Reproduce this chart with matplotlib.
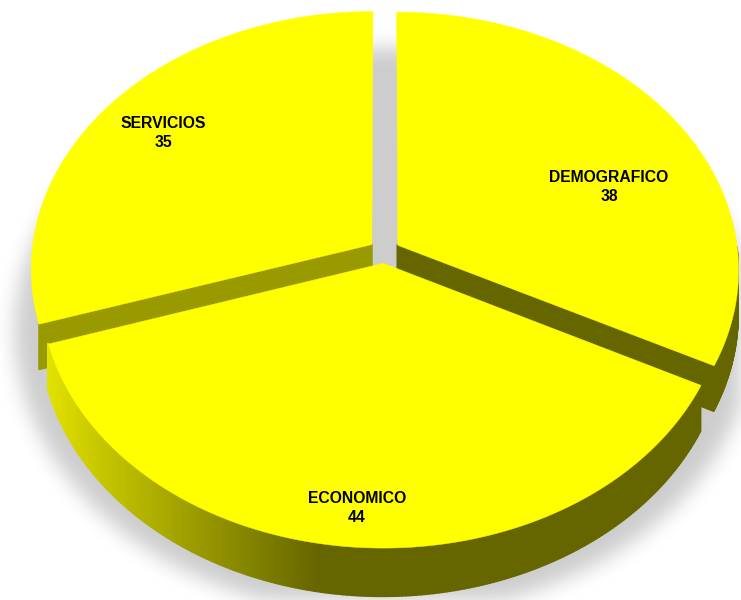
import numpy as np
import matplotlib.pyplot as plt
from matplotlib.collections import PolyCollection
from matplotlib.path import Path

# datos
categories = ['DEMOGRAFICO', 'ECONOMICO', 'SERVICIOS']
values = [38, 44, 35]

# layout en pixeles
W, H = 741, 600
cx, cy = 384, 251          # centro del pastel
rx, ry = 340, 256          # radios proyectados
persp = 0.093              # perspectiva (fondo mas pequeño)
depth = 44                 # grosor
explode = 0.046

top_color = '#ffff00'
side_colors = {'DEMOGRAFICO': '#666600', 'SERVICIOS': '#999900'}
label_pos = [(609, 187), (357, 508), (163, 133)]


def project(u, v, h=0.0):
    s = 1.0 / (1.0 + persp * v)
    return cx + rx * u * s, cy - ry * v * s + depth * h * s


def eco_wall(t):
    c = 102 + 160 * max(0.0, -np.cos(t) - 0.17)
    c = min(c, 255) / 255
    return (c, c, 0.0)


def wall_visible(t):
    # la camara mira un poco desde la derecha
    return np.sin(t) - 0.15 * np.cos(t) < -0.16


fig = plt.figure(figsize=(W / 100, H / 100), dpi=100)
ax = fig.add_axes([0, 0, 1, 1])
ax.set_xlim(0, W)
ax.set_ylim(H, 0)
ax.axis('off')

# sombra en el piso
tt = np.linspace(0, 2 * np.pi, 361)
sx, sy = project(1.08 * np.cos(tt), 1.08 * np.sin(tt), 1.0)
sy = sy + 8
gx, gy = np.meshgrid(np.arange(W) + 0.5, np.arange(H) + 0.5)
mask = Path(np.column_stack([sx, sy])).contains_points(
    np.column_stack([gx.ravel(), gy.ravel()])).reshape(H, W).astype(float)
sig = 10
k = np.arange(-3 * sig, 3 * sig + 1)
kern = np.exp(-k ** 2 / (2 * sig ** 2))
kern /= kern.sum()
blur = np.apply_along_axis(lambda r: np.convolve(r, kern, mode='same'), 1, mask)
blur = np.apply_along_axis(lambda c: np.convolve(c, kern, mode='same'), 0, blur)
shadow = np.zeros((H, W, 4))
shadow[..., 3] = 0.2 * blur
ax.imshow(shadow, extent=(0, W, H, 0), interpolation='bilinear', zorder=0)
ax.set_aspect('auto')

# angulos: empieza a las 12 y gira en sentido horario
fr = np.array(values) / sum(values)
ends = 90 - 360 * np.cumsum(fr)
starts = ends + 360 * fr

slices = []
for i, name in enumerate(categories):
    t1, t2 = np.radians(ends[i]), np.radians(starts[i])
    mid = (t1 + t2) / 2
    ox, oy = explode * np.cos(mid), explode * np.sin(mid)
    slices.append((np.sin(mid), name, t1, t2, ox, oy))

# caras laterales, de atras hacia adelante
order = sorted(slices, key=lambda s: -s[0])
for _, name, t1, t2, ox, oy in order:
    polys, cols = [], []
    ts = np.linspace(t1, t2, 240)
    for a, b in zip(ts[:-1], ts[1:]):
        if not wall_visible((a + b) / 2):
            continue
        x0, y0 = project(ox + np.cos(a), oy + np.sin(a))
        x1, y1 = project(ox + np.cos(b), oy + np.sin(b))
        x2, y2 = project(ox + np.cos(b), oy + np.sin(b), 1)
        x3, y3 = project(ox + np.cos(a), oy + np.sin(a), 1)
        polys.append([(x0, y0), (x1, y1), (x2, y2), (x3, y3)])
        cols.append(side_colors.get(name) or eco_wall((a + b) / 2))
    for t, nrm in ((t1, t1 - np.pi / 2), (t2, t2 + np.pi / 2)):
        if np.sin(nrm) < -0.05:
            ax0, ay0 = project(ox, oy)
            rx0, ry0 = project(ox + np.cos(t), oy + np.sin(t))
            rx1, ry1 = project(ox + np.cos(t), oy + np.sin(t), 1)
            ax1, ay1 = project(ox, oy, 1)
            polys.append([(ax0, ay0), (rx0, ry0), (rx1, ry1), (ax1, ay1)])
            cols.append(side_colors.get(name, '#666600'))
    if polys:
        ax.add_collection(PolyCollection(polys, facecolors=cols, edgecolors=cols,
                                         linewidths=1.2, zorder=2))

# superficies superiores
for _, name, t1, t2, ox, oy in order:
    ts = np.linspace(t1, t2, 300)
    px, py = project(ox + np.cos(ts), oy + np.sin(ts))
    ax0, ay0 = project(ox, oy)
    pts = [(ax0, ay0)] + list(zip(px, py))
    ax.add_collection(PolyCollection([pts], facecolors=top_color, edgecolors=top_color,
                                     linewidths=0.3, zorder=3))

for name, val, (lx, ly) in zip(categories, values, label_pos):
    ax.text(lx, ly, f'{name}\n{val}', ha='center', va='center', fontsize=11.3,
            fontweight='bold', family=['Liberation Sans', 'DejaVu Sans'],
            linespacing=1.3, zorder=5)

fig.savefig('out.png', dpi=100)
